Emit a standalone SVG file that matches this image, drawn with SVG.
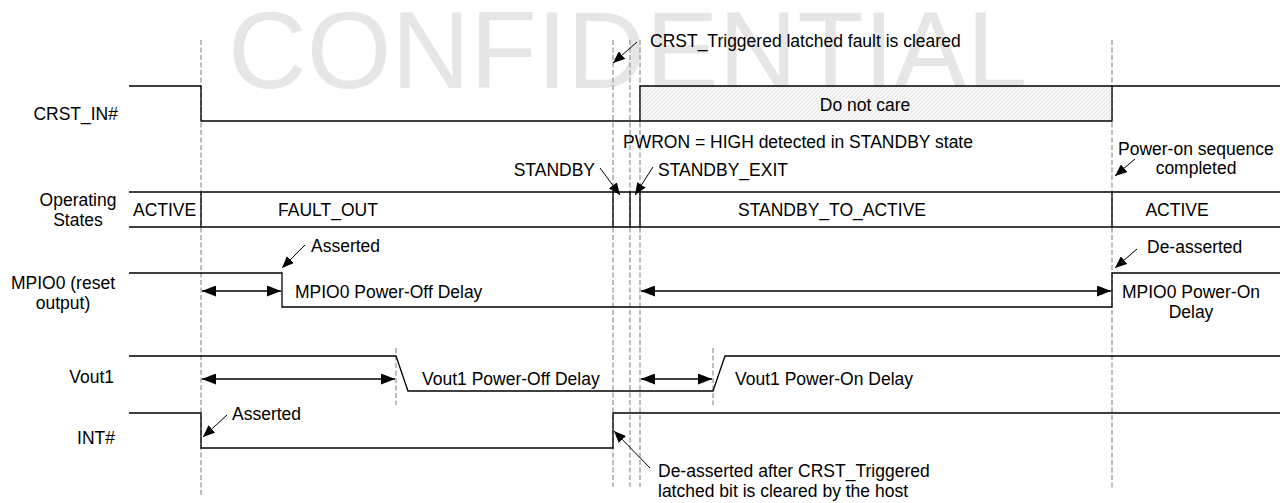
<svg xmlns="http://www.w3.org/2000/svg" width="1287" height="503" viewBox="0 0 1287 503">
<style>
text{font-family:"Liberation Sans",Arial,sans-serif;font-size:17.5px;fill:#000}
.wm{font-size:109px;fill:#e6e6e6}
.sig{fill:none;stroke:#000;stroke-width:1.3}
.dash{fill:none;stroke:#a8a8a8;stroke-width:1.5;stroke-dasharray:5 2.5}
.ann{fill:none;stroke:#000;stroke-width:1}
.dbl{fill:none;stroke:#000;stroke-width:1.4}
.mid{text-anchor:middle}
.end{text-anchor:end}
</style>
<defs>
<marker id="ah" viewBox="0 0 12 10" refX="12" refY="5" markerWidth="12" markerHeight="10" markerUnits="userSpaceOnUse" orient="auto-start-reverse"><path d="M0,0 L12,5 L0,10 z" fill="#000"/></marker>
<marker id="dh" viewBox="0 0 14 11" refX="14" refY="5.5" markerWidth="14" markerHeight="11" markerUnits="userSpaceOnUse" orient="auto-start-reverse"><path d="M0,0 L14,5.5 L0,11 z" fill="#000"/></marker>
<pattern id="hatch" patternUnits="userSpaceOnUse" width="4" height="4"><rect width="4" height="4" fill="#f7f7f7"/><path d="M-1,1 L1,-1 M0,4 L4,0 M3,5 L5,3" stroke="#d6d6d6" stroke-width="0.6"/></pattern>
</defs>
<rect width="1287" height="503" fill="#fff"/>
<text class="wm" x="228" y="88">CONFIDENTIAL</text>

<g id="guides">
<line class="dash" x1="201" y1="40" x2="201" y2="495"/>
<line class="dash" x1="613" y1="40" x2="613" y2="487"/>
<line class="dash" x1="630" y1="40" x2="630" y2="487"/>
<line class="dash" x1="640" y1="40" x2="640" y2="487"/>
<line class="dash" x1="1112" y1="40" x2="1112" y2="488"/>
<line class="dash" x1="396" y1="348" x2="396" y2="405"/>
<line class="dash" x1="713" y1="348" x2="713" y2="405"/>
</g>

<g id="labels">
<text class="end" x="118" y="120">CRST_IN#</text>
<text class="mid" x="78" y="206">Operating</text>
<text class="mid" x="78" y="226">States</text>
<text class="mid" x="63" y="289">MPIO0 (reset</text>
<text class="mid" x="63" y="309">output)</text>
<text class="end" x="114" y="383">Vout1</text>
<text class="end" x="115" y="444">INT#</text>
</g>

<g id="crst_in">
<rect x="640" y="86" width="472" height="35" fill="url(#hatch)"/>
<path class="sig" d="M129,86 H201 V121 H1112 V86 H1280"/>
<path class="sig" d="M640,121 V86 H1112"/>
<text class="mid" x="865" y="111">Do not care</text>
</g>

<g id="states">
<line class="sig" x1="129" y1="192" x2="1280" y2="192"/>
<line class="sig" x1="129" y1="227" x2="1280" y2="227"/>
<path class="sig" d="M201,192 V227 M613,192 V227 M630,192 V227 M640,192 V227 M1112,192 V227"/>
<text x="133" y="216">ACTIVE</text>
<text class="mid" x="328" y="216">FAULT_OUT</text>
<text class="mid" x="832" y="216">STANDBY_TO_ACTIVE</text>
<text class="mid" x="1177" y="216">ACTIVE</text>
</g>

<g id="mpio0">
<path class="sig" d="M129,273 H282 V307 H1112 V273 H1280"/>
<text x="295" y="298">MPIO0 Power-Off Delay</text>
<text class="mid" x="1191" y="298">MPIO0 Power-On</text>
<text class="mid" x="1191" y="318">Delay</text>
</g>

<g id="vout1">
<path class="sig" d="M129,356 H396 L408,391 H713 L725,356 H1280"/>
<text x="422" y="385">Vout1 Power-Off Delay</text>
<text x="735" y="385">Vout1 Power-On Delay</text>
</g>

<g id="int">
<path class="sig" d="M129,413 H201 V448 H613 V413 H1280"/>
</g>

<g id="annotations">
<text x="650" y="47">CRST_Triggered latched fault is cleared</text>
<text x="623" y="148">PWRON = HIGH detected in STANDBY state</text>
<text class="end" x="595" y="176">STANDBY</text>
<text x="658" y="176">STANDBY_EXIT</text>
<text x="1118" y="155">Power-on sequence</text>
<text class="mid" x="1196" y="174">completed</text>
<text x="311" y="252">Asserted</text>
<text x="1147" y="253">De-asserted</text>
<text x="232" y="420">Asserted</text>
<text x="658" y="477">De-asserted after CRST_Triggered</text>
<text x="658" y="497">latched bit is cleared by the host</text>
</g>

<g id="connectors">
<line class="ann" x1="637" y1="42" x2="613" y2="63" marker-end="url(#ah)"/>
<line class="ann" x1="600" y1="168" x2="620" y2="195" marker-end="url(#ah)"/>
<line class="ann" x1="653" y1="167" x2="635" y2="195" marker-end="url(#ah)"/>
<line class="ann" x1="1135" y1="159" x2="1115" y2="176" marker-end="url(#ah)"/>
<line class="ann" x1="305" y1="245" x2="282" y2="268" marker-end="url(#ah)"/>
<line class="ann" x1="1137" y1="249" x2="1115" y2="268" marker-end="url(#ah)"/>
<line class="ann" x1="227" y1="415" x2="203" y2="437" marker-end="url(#ah)"/>
<line class="ann" x1="650" y1="468" x2="614" y2="431" marker-end="url(#ah)"/>
<line class="dbl" x1="202" y1="291" x2="281" y2="291" marker-start="url(#dh)" marker-end="url(#dh)"/>
<line class="dbl" x1="641" y1="291" x2="1111" y2="291" marker-start="url(#dh)" marker-end="url(#dh)"/>
<line class="dbl" x1="202" y1="379" x2="395" y2="379" marker-start="url(#dh)" marker-end="url(#dh)"/>
<line class="dbl" x1="641" y1="379" x2="712" y2="379" marker-start="url(#dh)" marker-end="url(#dh)"/>
</g>
</svg>
